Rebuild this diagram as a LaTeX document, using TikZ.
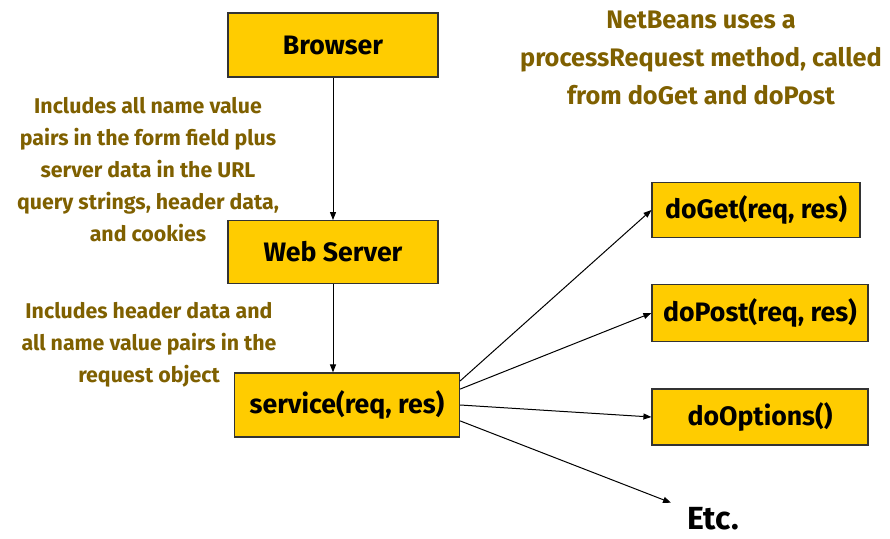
\documentclass[tikz,border=0pt]{standalone}
\usepackage{fontspec}
\setmainfont{Fira Sans}
\usetikzlibrary{arrows.meta}
\definecolor{stagefill}{HTML}{FFCC00}
\definecolor{notetext}{HTML}{7F6000}

\begin{document}
\begin{tikzpicture}
[
    x=0.75pt, y=-0.75pt,
    >={Triangle[length=6pt,width=4.5pt]},
    stage/.style={rectangle, draw=black!80, line width=0.9pt, fill=stagefill,
        inner sep=0pt, font=\bfseries\fontsize{20}{24}\selectfont},
    note/.style={text=notetext, align=center, font=\bfseries\fontsize{16}{24}\selectfont},
    flow/.style={->, line width=0.75pt},
]
    \useasboundingbox (0,0) rectangle (890,539);

    % request path
    \node[stage, minimum width=157.5pt, minimum height=48pt] (B) at (333,45) {Browser};
    \node[stage, minimum width=157.5pt, minimum height=47pt] (W) at (333,252) {Web Server};
    \node[stage, minimum width=168.75pt, minimum height=48pt] (S) at (347,405) {service(req, res)};

    % handler methods
    \node[stage, minimum width=156pt, minimum height=41pt] (G) at (756,210) {doGet(req, res)};
    \node[stage, minimum width=162pt, minimum height=43pt] (P) at (760,313) {doPost(req, res)};
    \node[stage, minimum width=162pt, minimum height=42pt] (O) at (760,417) {doOptions()};
    \node[font=\bfseries\fontsize{24}{28}\selectfont, inner sep=12pt] (E) at (713,519) {Etc.};

    % notes
    \node[note] (N1) at (148,170) {Includes all name value\\pairs in the form field plus\\server data in the URL\\query strings, header data,\\and cookies};
    \node[note] (N2) at (149,345) {Includes header data and\\all name value pairs in the\\request object};
    \node[note, font=\bfseries\fontsize{19}{28.5}\selectfont] (N3) at (701,58) {NetBeans uses a\\processRequest method, called\\from doGet and doPost};

    \draw[flow] (B.south) -- (W.north);
    \draw[flow] (W.south) -- (W.south |- S.north);
    \draw[flow] (S.12) -- (G.west);
    \draw[flow] (S.8) -- (P.west);
    \draw[flow] (S.0) -- (O.west);
    \draw[flow] (S.-8) -- (E);
\end{tikzpicture}
\end{document}
